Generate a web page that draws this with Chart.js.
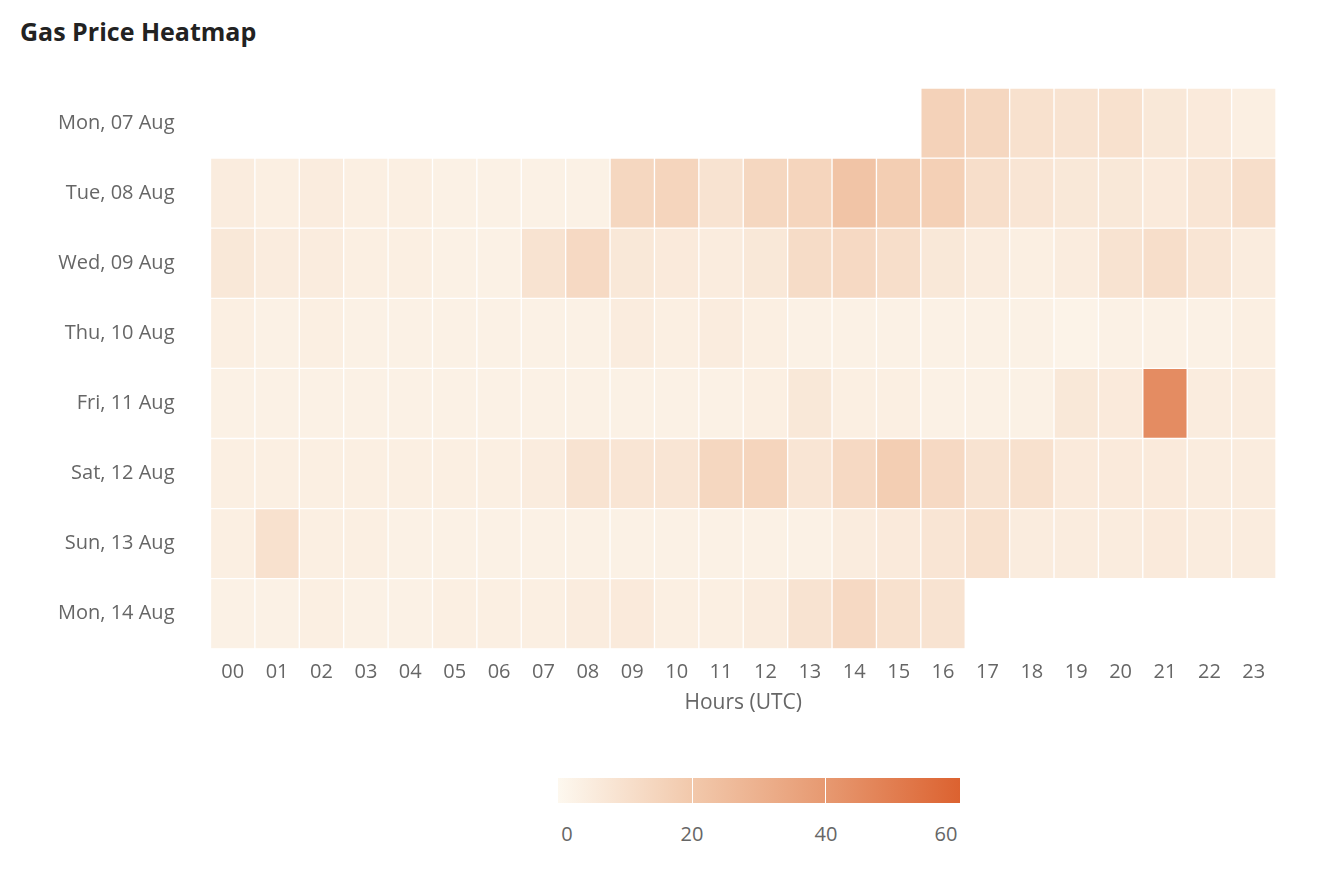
<!DOCTYPE html>
<html><head><meta charset="utf-8">
<script src="https://cdn.jsdelivr.net/npm/chart.js@4"></script>
<style>
body{margin:0;background:#fff;font-family:"Open Sans","Noto Sans",sans-serif;}
#title{position:absolute;left:20px;top:14px;font:bold 25px "Open Sans",sans-serif;color:#222;}
#wrap{position:absolute;left:0;top:0;width:1324px;height:720px;}
#legend{position:absolute;left:558px;top:778px;width:402px;height:25px;
 background:linear-gradient(to right,#fdf8ef,#f2c9ac 33%,#e79a72 66%,#dc6230);}
.tk{position:absolute;top:0;width:1px;height:25px;background:#fff;}
.lb{position:absolute;top:820px;font-size:20px;color:#666;transform:translateX(-50%);}
</style></head><body>
<div id="title">Gas Price Heatmap</div>
<div id="wrap"><canvas id="c"></canvas></div>
<div id="legend"><div class="tk" style="left:134px"></div><div class="tk" style="left:267px"></div></div>
<div class="lb" style="left:567px">0</div>
<div class="lb" style="left:692px">20</div>
<div class="lb" style="left:826px">40</div>
<div class="lb" style="left:946px">60</div>
<script>
var hours = ['00','01','02','03','04','05','06','07','08','09','10','11','12','13','14','15','16','17','18','19','20','21','22','23'];
var days = ['Mon, 07 Aug','Tue, 08 Aug','Wed, 09 Aug','Thu, 10 Aug','Fri, 11 Aug','Sat, 12 Aug','Sun, 13 Aug','Mon, 14 Aug'];
// null = no data
var mon07 = [null,null,null,null,null,null,null,null,null,null,null,null,null,null,null,null,16,14,10,9,10,7,6,4];
var tue08 = [5,4,5,4,4,3,3,3,3,14,15,9,14,15,22,18,17,11,8,7,7,6,8,11];
var wed09 = [7,5,5,4,4,3,3,9,13,7,6,5,7,12,13,11,7,5,4,5,9,11,8,5];
var thu10 = [4,3,4,3,3,3,3,3,3,5,4,5,4,3,3,3,3,3,3,2,3,3,3,4];
var fri11 = [3,3,3,3,3,3,3,3,3,3,3,3,4,7,4,4,3,3,3,7,6,45,5,5];
var sat12 = [4,4,4,4,4,4,4,5,9,8,8,14,15,8,13,18,13,9,10,6,6,6,5,5];
var sun13 = [4,10,4,4,3,3,3,3,3,3,3,3,3,3,5,6,8,10,5,5,5,6,5,5];
var mon14 = [3,3,4,3,3,4,4,4,5,6,4,4,5,9,13,10,9,null,null,null,null,null,null,null];
var rows = [mon07,tue08,wed09,thu10,fri11,sat12,sun13,mon14];
var stops = [[0,[253,248,239]],[20,[242,201,172]],[40,[231,154,114]],[60,[220,98,48]]];

function colorFor(v){
    for(var i=1;i<stops.length;i++){
        if(v<=stops[i][0]||i==stops.length-1){
            var a=stops[i-1],b=stops[i],t=Math.min(1,(v-a[0])/(b[0]-a[0]));
            var c=a[1].map(function(x,k){return Math.round(x+(b[1][k]-x)*t);});
            return 'rgb('+c.join(',')+')';
        }
    }
}

var datasets = rows.map(function(r,d){
    return {
        data: r.map(function(v){return v===null?null:[d-0.5,d+0.5];}),
        backgroundColor: r.map(function(v){return v===null?'transparent':colorFor(v);}),
        borderColor:'#fff', borderWidth:1, borderSkipped:false,
        barPercentage:1, categoryPercentage:1, grouped:false
    };
});

new Chart(document.getElementById('c'),{
    type:'bar',
    data:{labels:hours,datasets:datasets},
    options:{
        responsive:true, maintainAspectRatio:false, animation:false,
        layout:{padding:{left:30,top:88,right:48}},
        plugins:{legend:{display:false},tooltip:{enabled:false}},
        scales:{
            x:{grid:{display:false},border:{display:false},
               ticks:{color:'#666',font:{size:20,family:'Open Sans'},maxRotation:0},
               title:{display:true,text:'Hours (UTC)',color:'#666',font:{size:21,family:'Open Sans'}}},
            y:{type:'linear',reverse:true,min:-0.5,max:7.5,
               grid:{display:false},border:{display:false},
               afterBuildTicks:function(ax){ax.ticks=days.map(function(_,i){return {value:i};});},
               ticks:{color:'#666',font:{size:20,family:'Open Sans'},padding:28,
                      callback:function(v){return days[v];}}}
        }
    }
});
</script>
</body></html>
